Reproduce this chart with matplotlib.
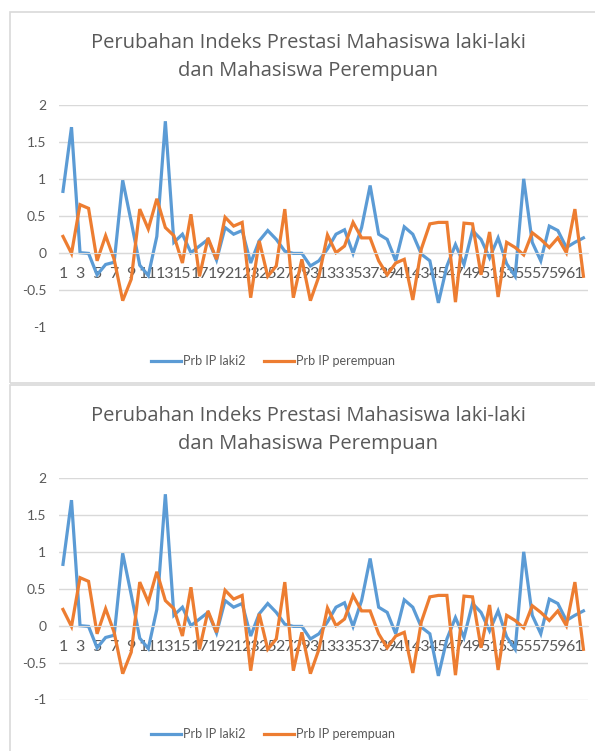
import numpy as np
import matplotlib
matplotlib.use("Agg")
import matplotlib.pyplot as plt
from matplotlib.patches import Rectangle

judul = "Perubahan Indeks Prestasi Mahasiswa laki-laki\ndan Mahasiswa Perempuan"
kategori = list(range(1, 63))
ip_laki2 = [0.83, 1.70, 0.0, -0.01, -0.30, -0.16, -0.13, 0.98, 0.42, -0.17,
            -0.31, 0.22, 1.78, 0.14, 0.25, 0.0, 0.09, 0.18, -0.10, 0.34,
            0.25, 0.30, -0.14, 0.16, 0.30, 0.18, 0.02, -0.01, -0.01, -0.18,
            -0.11, 0.05, 0.25, 0.31, -0.01, 0.34, 0.91, 0.25, 0.18, -0.11,
            0.35, 0.25, -0.02, -0.11, -0.68, -0.18, 0.11, -0.16, 0.30, 0.18,
            -0.07, 0.20, -0.15, -0.32, 1.00, 0.14, -0.11, 0.36, 0.30, 0.07,
            0.14, 0.20]
ip_perempuan = [0.22, -0.01, 0.65, 0.60, -0.11, 0.23, -0.09, -0.65, -0.36, 0.59,
                0.32, 0.73, 0.34, 0.23, -0.14, 0.52, -0.32, 0.20, -0.09, 0.48,
                0.36, 0.41, -0.61, 0.16, -0.32, -0.18, 0.59, -0.61, -0.09, -0.65,
                -0.32, 0.24, 0.0, 0.09, 0.41, 0.20, 0.20, -0.11, -0.30, -0.14,
                -0.09, -0.64, 0.05, 0.39, 0.41, 0.41, -0.67, 0.40, 0.39, -0.30,
                0.28, -0.60, 0.14, 0.07, -0.03, 0.27, 0.18, 0.07, 0.20, 0.0,
                0.59, -0.32]
label_y = [-1, -0.5, 0, 0.5, 1, 1.5, 2]

W, H = 595, 751
biru = "#5B9BD5"
oranye = "#ED7D31"
abu = "#595959"

fig = plt.figure(figsize=(W / 100, H / 100), dpi=100)


def px(x, y):
    # piksel (dari kiri-atas) ke koordinat figure
    return x / W, 1 - y / H


def gambar_grafik(dy):
    # bingkai grafik
    x0, y0 = px(10, 12 + dy + 371)
    fig.patches.append(Rectangle((x0, y0), 1.2, 371 / H, transform=fig.transFigure,
                                 fill=False, edgecolor="#D9D9D9", lw=1.2))

    fx, fy = px(308, 57 + dy)
    fig.text(fx, fy, judul, ha="center", va="center", fontsize=14.5,
             family="Open Sans", color=abu, linespacing=1.55)

    left, bottom = px(58.7, 326.5 + dy)
    ax = fig.add_axes([left, bottom, 529 / W, 221.5 / H])
    x = np.array(kategori)
    ax.plot(x, ip_laki2, color=biru, lw=2.3, label="Prb IP laki2", solid_joinstyle="miter")
    ax.plot(x, ip_perempuan, color=oranye, lw=2.3, label="Prb IP perempuan", solid_joinstyle="miter")

    ax.set_xlim(0.5, 62.5)
    ax.set_ylim(-1, 2)
    ax.set_yticks(label_y)
    ax.set_yticklabels([f"{v:g}" for v in label_y])
    ax.set_xticks(x[::2])
    ax.set_xticklabels([str(k) for k in kategori[::2]])
    ax.grid(axis="y", color="#D9D9D9", lw=1)
    ax.set_axisbelow(True)
    for s in ["top", "right", "left"]:
        ax.spines[s].set_visible(False)
    ax.spines["bottom"].set_position(("data", 0))
    ax.spines["bottom"].set_color("#D9D9D9")
    ax.tick_params(axis="both", length=0, colors=abu)
    ax.tick_params(axis="y", pad=9, labelsize=10)
    ax.tick_params(axis="x", pad=10, labelsize=11.5)
    for t in ax.get_xticklabels() + ax.get_yticklabels():
        t.set_family("Lato")
    ax.set_facecolor("none")

    lx, ly = px(273, 361 + dy)
    leg = ax.legend(loc="center", bbox_to_anchor=(lx, ly), bbox_transform=fig.transFigure,
                    ncol=2, frameon=False, handlelength=2.4,
                    handletextpad=0.15, columnspacing=1.5,
                    prop={"family": "Lato", "size": 9})
    for t in leg.get_texts():
        t.set_color(abu)
    return ax


gambar_grafik(0)
gambar_grafik(373)

fig.savefig("out.png", dpi=100, facecolor="white")
